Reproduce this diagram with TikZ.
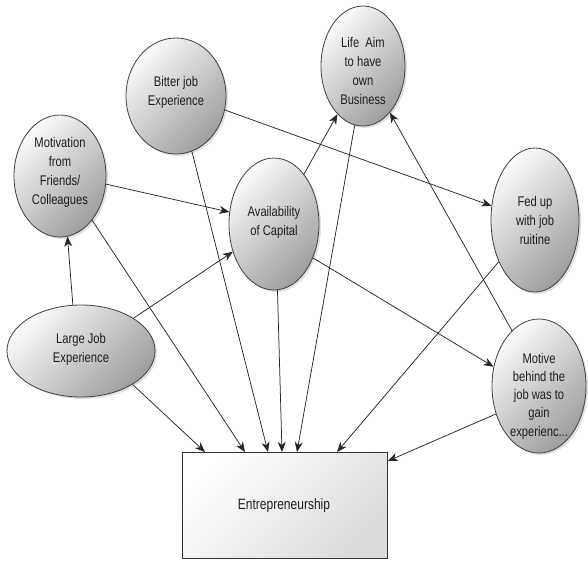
\documentclass[tikz,border=0pt]{standalone}
\usepackage{fontspec}
\setmainfont{Liberation Sans}[FakeStretch=0.8]
\usetikzlibrary{shapes.geometric,arrows.meta,calc,shadows}
\definecolor{txtc}{HTML}{1E1E1E}
\definecolor{edgec}{HTML}{404040}
\begin{document}
\begin{tikzpicture}[x=1pt,y=-1pt,
  el/.style={ellipse, draw=edgec, line width=0.8pt, inner sep=0pt,
    top color=black!2, bottom color=black!38, shading angle=45,
    drop shadow={shadow xshift=2pt, shadow yshift=-2pt, opacity=0.12, fill=black}},
  lbl/.style={text=txtc, align=center, font=\fontsize{14}{19}\selectfont, inner sep=0pt},
  ebox/.style={draw=black!80, line width=0.8pt, anchor=north west,
    top color=white, bottom color=black!14, shading angle=45,
    minimum width=205pt, minimum height=106pt, inner sep=0pt},
  arr/.style={draw=black!85, line width=0.75pt, -{Stealth[length=10pt,width=8pt,inset=3pt]}}
]
\useasboundingbox (0,0) rectangle (588,563);

% ellipses
\node[el, minimum width=92pt, minimum height=122pt] (mot) at (60,176) {};
\node[el, minimum width=100pt, minimum height=116pt] (bit) at (176,96) {};
\node[el, minimum width=84pt, minimum height=120pt] (life) at (363,66) {};
\node[el, minimum width=90pt, minimum height=132pt] (avail) at (274,224) {};
\node[el, minimum width=88pt, minimum height=144pt] (fed) at (535,220) {};
\node[el, minimum width=94pt, minimum height=134pt] (motive) at (539,386) {};
\node[el, minimum width=148pt, minimum height=92pt] (large) at (81,351) {};
\node[ebox] (E) at (182,452) {};

% labels
\node[lbl] (motT) at (60,172) {Motivation\\from\\Friends/\\Colleagues};
\node[lbl] (bitT) at (176,92) {Bitter job\\Experience};
\node[lbl] (lifeT) at (363,71) {Life~~Aim\\to have\\own\\Business};
\node[lbl] (availT) at (274,222) {Availability\\of Capital};
\node[lbl] (fedT) at (535,220) {Fed up\\with job\\ruitine};
\node[lbl, font=\fontsize{14}{18.3}\selectfont] (motiveT) at (539,396) {Motive\\behind the\\job was to\\gain\\experienc...};
\node[lbl] (largeT) at (81,349) {Large Job\\Experience};
\node[lbl, font=\fontsize{15}{19}\selectfont] (ET) at (284,506) {Entrepreneurship};

% connectors
\draw[arr] (large.100) -- (mot.277);
\draw[arr] (large.32) -- (avail.214);
\draw[arr] (large.-33) -- ($(E.north west)+(23,0)$);
\draw[arr] (mot.-10) -- (avail.165);
\draw[arr] (mot.-54) -- ($(E.north west)+(63,0)$);
\draw[arr] (bit.-16) -- (fed.162);
\draw[arr] (bit.-74) -- ($(E.north west)+(86,0)$);
\draw[arr] (avail.59) -- (life.242);
\draw[arr] (avail.-87) -- ($(E.north west)+(100,0)$);
\draw[arr] (avail.-41) -- (motive.157);
\draw[arr] (life.262) -- ($(E.north west)+(115,0)$);
\draw[arr] (fed.229) -- ($(E.north west)+(155,0)$);
\draw[arr] (motive.116) -- (life.-60);
\draw[arr] (motive.213) -- ($(E.north east)+(0,9)$);
\end{tikzpicture}
\end{document}
